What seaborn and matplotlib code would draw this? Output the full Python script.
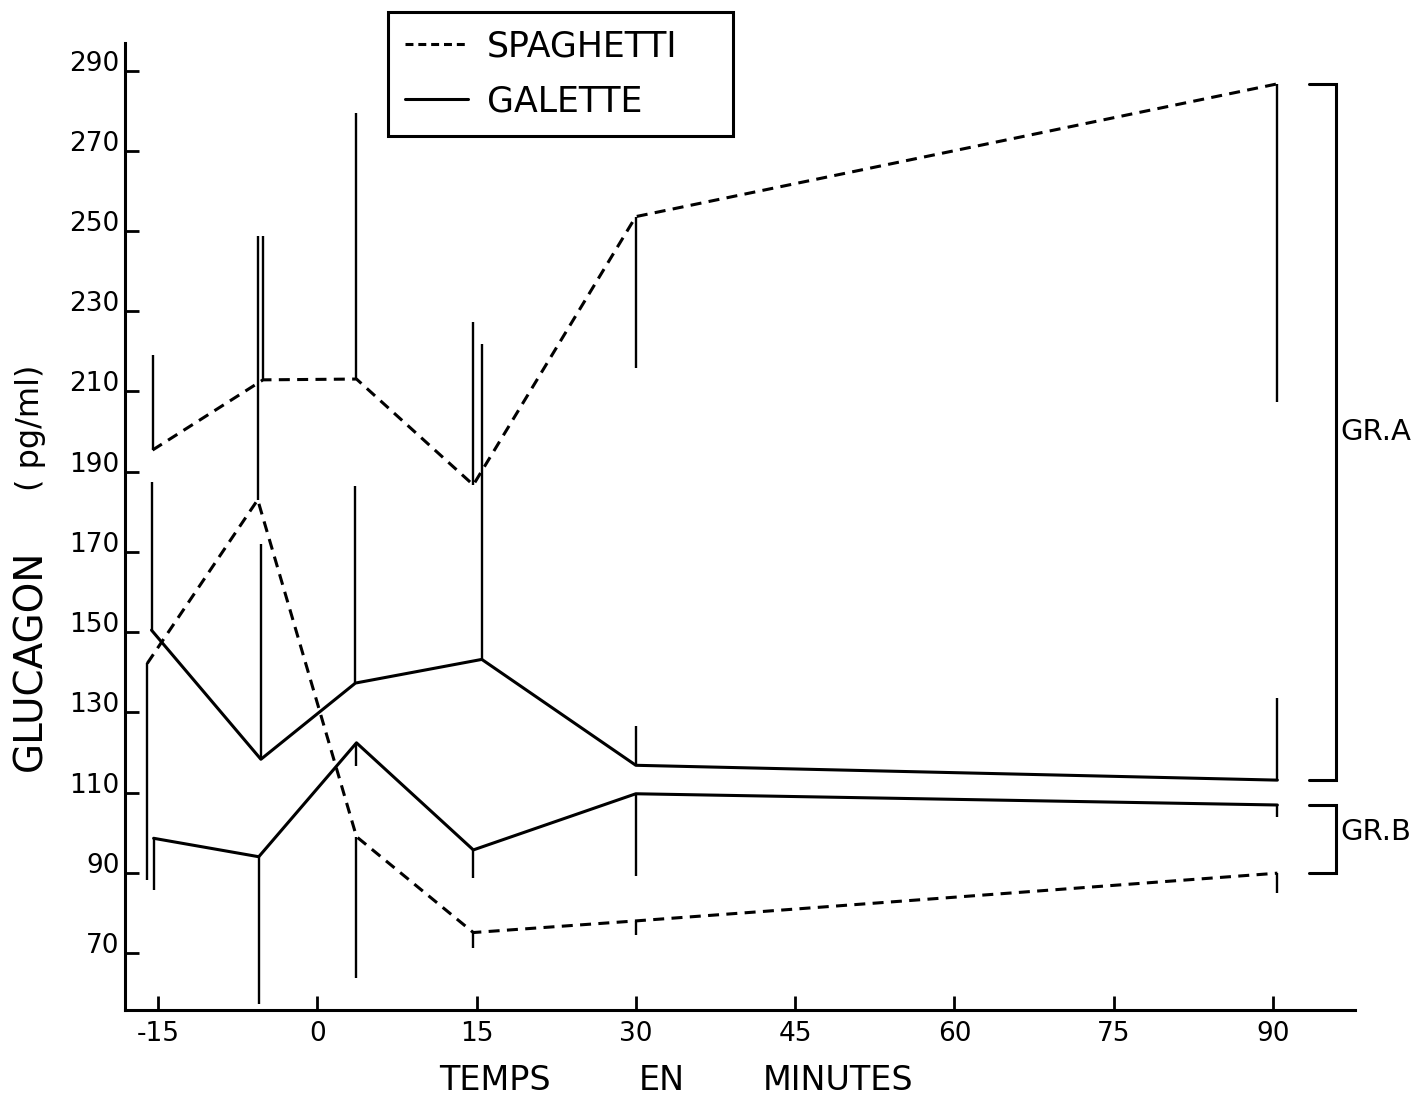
import matplotlib
matplotlib.use("Agg")
import matplotlib.pyplot as plt
from matplotlib.lines import Line2D
import pandas as pd
import seaborn as sns

# Sampling times (min) as plotted, each curve slightly offset
temps_spag_a = [-15.5, -5.1, 3.7, 14.7, 30.0, 90.4]
temps_spag_b = [-16.0, -5.6, 3.7, 14.7, 30.0, 90.4]
temps_gal_a = [-15.6, -5.3, 3.6, 15.5, 30.0, 90.4]
temps_gal_b = [-15.4, -5.5, 3.7, 14.7, 30.0, 90.4]

# Mean plasma glucagon (pg/ml)
spag_a = [195.4, 212.9, 213.1, 186.7, 253.6, 286.7]
spag_b = [142.2, 183.0, 99.0, 75.1, 78.0, 89.9]
gal_a = [150.5, 118.3, 137.3, 143.2, 116.8, 113.1]
gal_b = [98.6, 94.0, 122.4, 95.7, 109.7, 106.9]

# Far end of each one-sided error bar (pg/ml)
spag_a_err = [219.1, 248.8, 279.5, 227.4, 215.9, 207.5]
spag_b_err = [88.2, 248.8, 63.7, 71.2, 74.5, 84.9]
gal_a_err = [187.5, 172.0, 186.5, 221.9, 126.6, 133.5]
gal_b_err = [85.7, 57.4, 116.5, 88.6, 89.3, 104.0]

regimes = ["SPAGHETTI", "GALETTE"]
groupes = ["GR.A", "GR.B"]
x_ticks = [-15, 0, 15, 30, 45, 60, 75, 90]
x_tick_labels = ["-15", "0", "15", "30", "45", "60", "75", "90"]
y_ticks = [70, 90, 110, 130, 150, 170, 190, 210, 230, 250, 270, 290]

series = [
    ("SPAGHETTI", "GR.A", temps_spag_a, spag_a, spag_a_err),
    ("SPAGHETTI", "GR.B", temps_spag_b, spag_b, spag_b_err),
    ("GALETTE", "GR.A", temps_gal_a, gal_a, gal_a_err),
    ("GALETTE", "GR.B", temps_gal_b, gal_b, gal_b_err),
]

rows = []
for regime, groupe, t, v, e in series:
    for ti, vi, ei in zip(t, v, e):
        rows.append({"temps": ti, "glucagon": vi, "borne": ei,
                     "regime": regime, "groupe": groupe})
df = pd.DataFrame(rows)

sns.set_theme(style="ticks")
plt.rcParams["font.family"] = ["DejaVu Sans"]
plt.rcParams["text.color"] = "black"
plt.rcParams["axes.labelcolor"] = "black"
plt.rcParams["xtick.color"] = "black"
plt.rcParams["ytick.color"] = "black"

fig = plt.figure(figsize=(14.28, 11.01), dpi=100)
ax = fig.add_axes([0.0875, 0.0827, 0.8613, 0.8783])

dash = (3.6, 2.4)
sns.lineplot(data=df, x="temps", y="glucagon", style="regime", units="groupe",
             estimator=None, sort=False, color="black", linewidth=2.2,
             dashes={"SPAGHETTI": dash, "GALETTE": ""},
             style_order=regimes, legend=False, ax=ax)

# one-sided error bars
ax.vlines(df["temps"], df["glucagon"], df["borne"], color="black", linewidth=1.7)

ax.set_xlim(-18.1, 97.7)
ax.set_ylim(55.8, 296.9)
ax.set_xticks(x_ticks)
ax.set_xticklabels(x_tick_labels)
ax.set_yticks(y_ticks)
ax.set_yticklabels([str(y) for y in y_ticks])
for lbl in ax.get_yticklabels():
    lbl.set_va("baseline")
ax.tick_params(axis="both", direction="in", length=10, width=2,
               labelsize=19, colors="black")
ax.tick_params(axis="x", pad=8)
ax.tick_params(axis="y", pad=4)
ax.set_xlabel("")
ax.set_ylabel("")
sns.despine(ax=ax)
for s in ("left", "bottom"):
    ax.spines[s].set_linewidth(2.2)
    ax.spines[s].set_color("black")

# group brackets spanning the 90-min values
for groupe in groupes:
    sub = df[(df["groupe"] == groupe) & (df["temps"] > 60)]
    lo, hi = sub["glucagon"].min(), sub["glucagon"].max()
    ax.plot([93.4, 95.9, 95.9, 93.4], [hi, hi, lo, lo], color="black",
            linewidth=2.2, clip_on=False, solid_joinstyle="miter")
ax.text(96.3, 200.0, "GR.A", fontsize=21, ha="left", va="center", clip_on=False)
ax.text(96.3, 100.2, "GR.B", fontsize=21, ha="left", va="center", clip_on=False)

# axis titles
fig.text(0.0215, 1 - 660 / 1101, "GLUCAGON", rotation=90, fontsize=28,
         ha="center", va="center")
fig.text(0.0215, 1 - 428 / 1101, "( pg/ml)", rotation=90, fontsize=23,
         ha="center", va="center")
for word, xc in (("TEMPS", 495), ("EN", 662), ("MINUTES", 838)):
    fig.text(xc / 1428, 1 - 1080 / 1101, word, fontsize=24, ha="center", va="center")

handles = [Line2D([], [], color="black", linewidth=2.2, dashes=(2.6, 1.6)),
           Line2D([], [], color="black", linewidth=2.2)]
leg = fig.legend(handles, regimes, loc="upper left",
                 bbox_to_anchor=(388 / 1428, 1 - 135 / 1101, 345 / 1428, 123 / 1101),
                 mode="expand", borderaxespad=0, fontsize=25, handlelength=1.8,
                 handletextpad=0.55, labelspacing=0.6, borderpad=0.5,
                 frameon=True, fancybox=False, framealpha=1, edgecolor="black")
leg.get_frame().set_linewidth(2.2)

fig.savefig("out.png", dpi=100, facecolor="white")
